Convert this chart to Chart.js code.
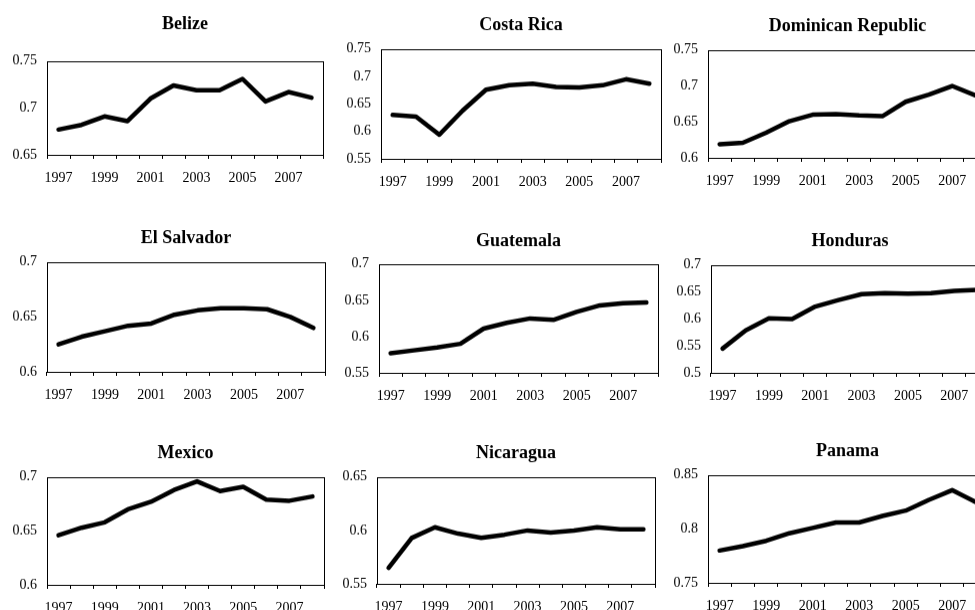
<!DOCTYPE html>
<html>
<head>
<meta charset="utf-8">
<script src="https://cdn.jsdelivr.net/npm/chart.js@4.4.1/dist/chart.umd.min.js"></script>
<style>
html, body { margin: 0; padding: 0; width: 975px; height: 610px; overflow: hidden; background: #fff; }
canvas { position: absolute; }
</style>
</head>
<body>
<script>
var years = ["1997", "1998", "1999", "2000", "2001", "2002", "2003", "2004", "2005", "2006", "2007", "2008"];
var countries = ["Belize", "Costa Rica", "Dominican Republic", "El Salvador", "Guatemala", "Honduras", "Mexico", "Nicaragua", "Panama"];

var belize     = [0.677, 0.682, 0.691, 0.686, 0.710, 0.724, 0.719, 0.719, 0.731, 0.707, 0.717, 0.711];
var costaRica  = [0.630, 0.627, 0.594, 0.638, 0.676, 0.684, 0.687, 0.681, 0.680, 0.684, 0.695, 0.687];
var dominican  = [0.619, 0.621, 0.635, 0.651, 0.660, 0.661, 0.659, 0.658, 0.678, 0.688, 0.700, 0.687];
var elSalvador = [0.625, 0.632, 0.637, 0.642, 0.644, 0.652, 0.656, 0.658, 0.658, 0.657, 0.650, 0.640];
var guatemala  = [0.577, 0.581, 0.585, 0.590, 0.611, 0.619, 0.625, 0.623, 0.634, 0.643, 0.646, 0.647];
var honduras   = [0.545, 0.579, 0.601, 0.600, 0.623, 0.635, 0.646, 0.648, 0.647, 0.648, 0.652, 0.654];
var mexico     = [0.646, 0.653, 0.658, 0.670, 0.677, 0.688, 0.696, 0.687, 0.691, 0.679, 0.678, 0.682];
var nicaragua  = [0.565, 0.593, 0.603, 0.597, 0.593, 0.596, 0.600, 0.598, 0.600, 0.603, 0.601, 0.601];
var panama     = [0.780, 0.784, 0.789, 0.796, 0.801, 0.806, 0.806, 0.812, 0.817, 0.827, 0.836, 0.825];

var series = [belize, costaRica, dominican, elSalvador, guatemala, honduras, mexico, nicaragua, panama];
var yMin = [0.65, 0.55, 0.6, 0.6, 0.55, 0.5, 0.6, 0.55, 0.75];
var yMax = [0.75, 0.75, 0.75, 0.7, 0.7, 0.7, 0.7, 0.65, 0.85];
var yStep = 0.05;

// plot area of each panel: left, top, right, bottom, title centre above top
var boxes = [
  [47, 61, 323, 155, 38], [381, 49, 661, 159, 25], [708, 50, 987, 158, 25],
  [47, 262, 325, 372, 25], [379, 264, 658, 373, 24], [711, 265, 989, 373, 25],
  [47, 477, 324, 585, 25], [377, 477, 655, 584, 25], [708, 475, 987, 583, 25]
];

var yW = 44, xH = 32, padR = 4;
var serif = "'Liberation Serif', 'Times New Roman', serif";

var boxPlugin = {
  id: "box",
  beforeDatasetsDraw: function (chart) {
    var a = chart.chartArea, ctx = chart.ctx;
    ctx.save();
    ctx.strokeStyle = "#000";
    ctx.lineWidth = 1;
    ctx.strokeRect(Math.round(a.left) + 0.5, Math.round(a.top) + 0.5,
      Math.round(a.right - a.left), Math.round(a.bottom - a.top));
    ctx.restore();
  }
};

for (var i = 0; i < countries.length; i++) {
  var b = boxes[i];
  var padBottom = b[4] - 12.8;
  var titleH = 6 + 21.6 + padBottom;
  var cv = document.createElement("canvas");
  var w = b[2] - b[0] + yW + padR;
  var h = b[3] - b[1] + titleH + xH;
  cv.width = w;
  cv.height = h;
  cv.style.left = (b[0] - yW) + "px";
  cv.style.top = (b[1] - titleH) + "px";
  cv.style.width = w + "px";
  cv.style.height = h + "px";
  document.body.appendChild(cv);

  new Chart(cv, {
    type: "line",
    data: {
      labels: years,
      datasets: [{
        data: series[i],
        borderColor: "#000",
        borderWidth: 4.5,
        borderJoinStyle: "round",
        borderCapStyle: "round",
        pointRadius: 0,
        tension: 0,
        fill: false
      }]
    },
    options: {
      responsive: false,
      animation: false,
      events: [],
      layout: { padding: { top: 0, left: 0, right: padR, bottom: 0 } },
      plugins: {
        legend: { display: false },
        tooltip: { enabled: false },
        title: {
          display: true,
          text: countries[i],
          fullSize: false,
          color: "#000",
          font: { family: serif, size: 18, weight: "bold", lineHeight: 1.2 },
          padding: { top: 6, bottom: padBottom }
        }
      },
      scales: {
        x: {
          type: "category",
          offset: true,
          afterFit: function (s) { s.height = xH; },
          grid: { display: true, offset: true, drawOnChartArea: false, drawTicks: true, tickLength: 4, color: "#000", lineWidth: 1 },
          border: { display: false },
          ticks: {
            autoSkip: false,
            maxRotation: 0,
            padding: 11,
            color: "#000",
            font: { family: serif, size: 14 },
            callback: function (v, idx) { return idx % 2 === 0 ? this.getLabelForValue(v) : ""; }
          }
        },
        y: {
          min: yMin[i],
          max: yMax[i],
          afterFit: function (s) { s.width = yW; },
          grid: { display: false, drawTicks: false },
          border: { display: false },
          ticks: {
            stepSize: yStep,
            padding: 10,
            color: "#000",
            font: { family: serif, size: 14 },
            callback: function (v) { return String(+v.toFixed(2)); }
          }
        }
      }
    },
    plugins: [boxPlugin]
  });
}
</script>
</body>
</html>
